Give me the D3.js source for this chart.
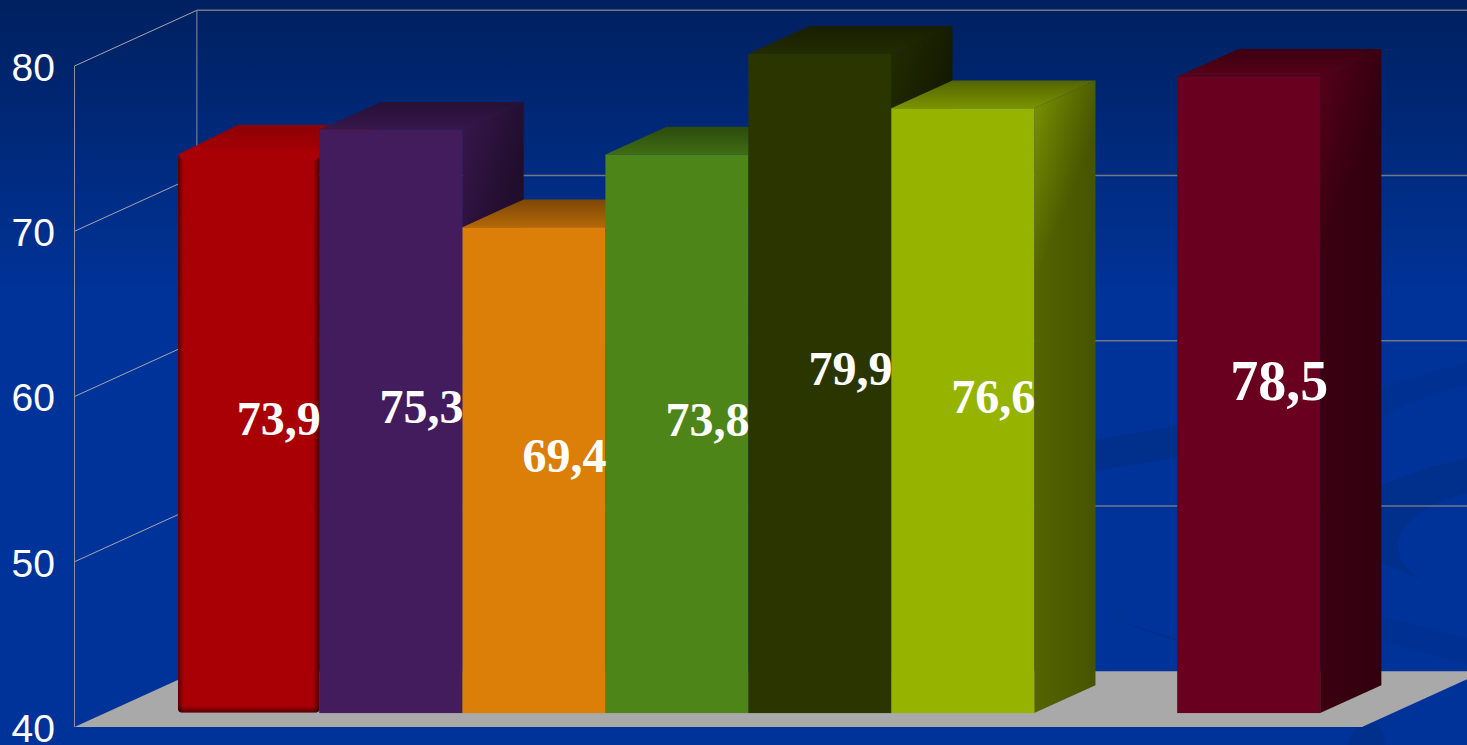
<!DOCTYPE html>
<html>
<head>
<meta charset="utf-8">
<style>
html,body{margin:0;padding:0;background:#003399;overflow:hidden}
svg{display:block}
</style>
<script src="https://cdn.jsdelivr.net/npm/d3@7/dist/d3.min.js"></script>
</head>
<body>
<svg id="chart" width="1467" height="745"></svg>
<script>
// data
const seriesKeys = ["s1", "s2", "s3", "s4", "s5", "s6", "s7", "s8"];
const seriesValues = [73.9, 75.3, 69.4, 73.8, 79.9, 76.6, null, 78.5];
const tickValues = [40, 50, 60, 70, 80];
// styles
const seriesColors = ["#a80005", "#431c5d", "#db7f09", "#4e8518", "#2b3500", "#96b300", "none", "#6a001f"];
const largeLabelKey = "s8";
const bevelKey = "s1";

const W = 1467, H = 745;
const svg = d3.select("#chart");
const defs = svg.append("defs");
const floorLeft = 74.5, floorRight = 1362;
const depthX = 122.4, depthY = 55.7;

const y = d3.scaleLinear().domain([40, 80]).range([727, 66]);
const x = d3.scaleBand().domain(seriesKeys).range([floorLeft, floorRight - 1]).paddingInner(0).paddingOuter(0.5);
const project = (px, v, d) => [px + d * depthX, y(v) - d * depthY];
const fmt = d3.formatLocale({decimal: ",", thousands: " ", grouping: [3], currency: ["", ""]}).format(".1f");
const shade = (c, k) => { const o = d3.rgb(c); return d3.rgb(o.r * k, o.g * k, o.b * k).formatHex(); };
const poly = pts => pts.map(p => p.join(",")).join(" ");

// background
const bg = defs.append("linearGradient").attr("id", "bg").attr("x1", 0).attr("y1", 0).attr("x2", 0).attr("y2", 1);
bg.append("stop").attr("offset", 0).attr("stop-color", "#00205f");
bg.append("stop").attr("offset", 0.4).attr("stop-color", "#003399");
bg.append("stop").attr("offset", 1).attr("stop-color", "#003399");
svg.append("rect").attr("width", W).attr("height", H).attr("fill", "url(#bg)");

const swirl = svg.append("g").attr("stroke", "none");
[
  ["M1090,441 C1120,436 1150,430 1190,423 L1190,456 C1150,462 1120,466 1090,472 Z", "#002f8c"],
  ["M1381,387 C1410,377 1440,368 1467,362 L1467,385 C1440,392 1410,402 1381,418 Z", "#00319300"],
  ["M1381,387 C1410,377 1440,368 1467,362 L1467,385 C1440,392 1410,402 1381,418 Z", "#003192"],
  ["M1381,486 C1410,473 1440,464 1467,458 L1467,493 C1400,510 1375,550 1422,580 L1381,562 Z", "#002f8c"],
  ["M1095,614 L1178,639 L1178,642 Z", "#002f8c"],
  ["M1381,617 C1410,622 1440,630 1467,639 L1467,665 C1440,658 1410,650 1381,640 Z", "#003192"],
  ["M1347,745 C1352,730 1362,722 1371,721 C1380,724 1386,735 1385,745 Z", "#002f8c"]
].forEach(s => swirl.append("path").attr("d", s[0]).attr("fill", s[1]));

// floor
svg.append("polygon")
  .attr("points", poly([[floorLeft, y(40)], [floorRight, y(40)], [floorRight + depthX, y(40) - depthY], [floorLeft + depthX, y(40) - depthY]]))
  .attr("fill", "#a9a9a9");

// walls and grid
const grid = svg.append("g").attr("fill", "none");
grid.selectAll("line.back").data(tickValues.slice(1)).join("line").attr("class", "back")
  .attr("x1", floorLeft + depthX).attr("x2", W)
  .attr("y1", d => y(d) - depthY).attr("y2", d => y(d) - depthY)
  .attr("stroke", "#6f7789").attr("stroke-width", 1.4);
grid.selectAll("line.side").data(tickValues.slice(1)).join("line").attr("class", "side")
  .attr("x1", floorLeft).attr("x2", floorLeft + depthX)
  .attr("y1", d => y(d)).attr("y2", d => y(d) - depthY)
  .attr("stroke", "#a3a7ad").attr("stroke-width", 1);
[0, 1].forEach(d => {
  grid.append("line")
    .attr("x1", floorLeft + d * depthX).attr("x2", floorLeft + d * depthX)
    .attr("y1", y(40) - d * depthY).attr("y2", y(80) - d * depthY)
    .attr("stroke", "#8b909c").attr("stroke-width", 1);
});

// axis labels
const axis = d3.axisLeft(y).tickValues(tickValues).tickSize(0).tickPadding(0);
const axisG = svg.append("g").attr("transform", "translate(55,2)").call(axis);
axisG.select(".domain").remove();
axisG.selectAll("text")
  .attr("font-family", "'Liberation Sans', Arial, sans-serif")
  .attr("font-size", 39).attr("fill", "#ffffff");

// bars
const rows = seriesKeys.map((k, i) => ({key: k, value: seriesValues[i], color: seriesColors[i]})).filter(d => d.value !== null);
const bars = svg.append("g").selectAll("g").data(rows).join("g");
const bw = x.bandwidth();

bars.each(function (d) {
  const g = d3.select(this);
  const left = x(d.key), right = left + bw;
  const fl = project(left, 40, .25)[0], fr = project(right, 40, .25)[0];
  const ftop = project(left, d.value, .25)[1], fbot = project(left, 40, .25)[1];
  const [br, btop] = project(right, d.value, .75);
  const bl = project(left, d.value, .75)[0];
  const bbot = project(right, 40, .75)[1];
  const isBevel = d.key === bevelKey;
  const flx = isBevel ? fl + 1.4 : fl;

  // top gradient
  const tg = defs.append("linearGradient").attr("id", "top-" + d.key).attr("gradientUnits", "userSpaceOnUse")
    .attr("x1", 0).attr("x2", 0).attr("y1", btop).attr("y2", ftop);
  tg.append("stop").attr("offset", 0).attr("stop-color", shade(d.color, isBevel ? .82 : .56));
  tg.append("stop").attr("offset", 1).attr("stop-color", shade(d.color, isBevel ? 1 : .82));

  // side gradient
  const sg = defs.append("linearGradient").attr("id", "side-" + d.key).attr("gradientUnits", "userSpaceOnUse")
    .attr("x1", fr).attr("y1", ftop).attr("x2", br).attr("y2", ftop + 25);
  sg.append("stop").attr("offset", 0).attr("stop-color", shade(d.color, .8));
  sg.append("stop").attr("offset", 1).attr("stop-color", shade(d.color, .56));

  const sh = defs.append("linearGradient").attr("id", "sideh-" + d.key).attr("gradientUnits", "userSpaceOnUse")
    .attr("x1", fr).attr("y1", 0).attr("x2", br).attr("y2", 0);
  sh.append("stop").attr("offset", 0).attr("stop-color", "#000").attr("stop-opacity", 0);
  sh.append("stop").attr("offset", 1).attr("stop-color", "#000").attr("stop-opacity", .16);

  const sidePts = [[fr, ftop], [br, btop], [br, bbot], [fr, fbot]];
  g.append("polygon").attr("points", poly(sidePts)).attr("fill", `url(#side-${d.key})`);
  g.append("polygon").attr("points", poly(sidePts)).attr("fill", `url(#sideh-${d.key})`);

  if (isBevel) {
    const h = defs.append("linearGradient").attr("id", "bevelh").attr("x1", 0).attr("x2", 1).attr("y1", 0).attr("y2", 0);
    [[0, .5], [.04, 1], [.955, 1], [1, .45]].forEach(s =>
      h.append("stop").attr("offset", s[0]).attr("stop-color", shade(d.color, s[1])));
    const v = defs.append("linearGradient").attr("id", "bevelv").attr("x1", 0).attr("x2", 0).attr("y1", 0).attr("y2", 1);
    v.append("stop").attr("offset", 0).attr("stop-color", "#000").attr("stop-opacity", 0);
    v.append("stop").attr("offset", .988).attr("stop-color", "#000").attr("stop-opacity", 0);
    v.append("stop").attr("offset", 1).attr("stop-color", "#000").attr("stop-opacity", .5);
    g.append("rect").attr("x", flx).attr("y", ftop + 1).attr("width", fr - flx).attr("height", fbot - ftop - 1.5)
      .attr("rx", 4).attr("fill", "url(#bevelh)");
    g.append("rect").attr("x", flx).attr("y", ftop + 1).attr("width", fr - flx).attr("height", fbot - ftop - 1.5)
      .attr("rx", 4).attr("fill", "url(#bevelv)");
    g.append("polygon").attr("points", poly([[flx, ftop + 1.5], [bl, btop], [br, btop], [fr - 6, ftop + 8], [flx + 6, ftop + 8]])).attr("fill", `url(#top-${d.key})`);
  } else {
    g.append("polygon").attr("points", poly([[flx, ftop], [bl, btop], [br, btop], [fr, ftop]])).attr("fill", `url(#top-${d.key})`);
    g.append("rect").attr("x", fl).attr("y", ftop).attr("width", fr - fl).attr("height", fbot - ftop)
      .attr("fill", d.color);
  }
});

// value labels, on the mid-depth plane of each bar
svg.append("g").selectAll("text").data(rows).join("text")
  .attr("x", d => project(x(d.key) + bw / 2, d.value, .5)[0])
  .attr("y", d => (project(0, d.value, .5)[1] + project(0, 40, .5)[1]) / 2 - 1)
  .attr("dy", ".35em")
  .attr("text-anchor", "middle")
  .attr("font-family", "'Liberation Serif', 'Times New Roman', serif")
  .attr("font-weight", "bold")
  .attr("font-size", d => d.key === largeLabelKey ? 56 : 48)
  .attr("fill", "#ffffff")
  .text(d => fmt(d.value));
</script>
</body>
</html>
